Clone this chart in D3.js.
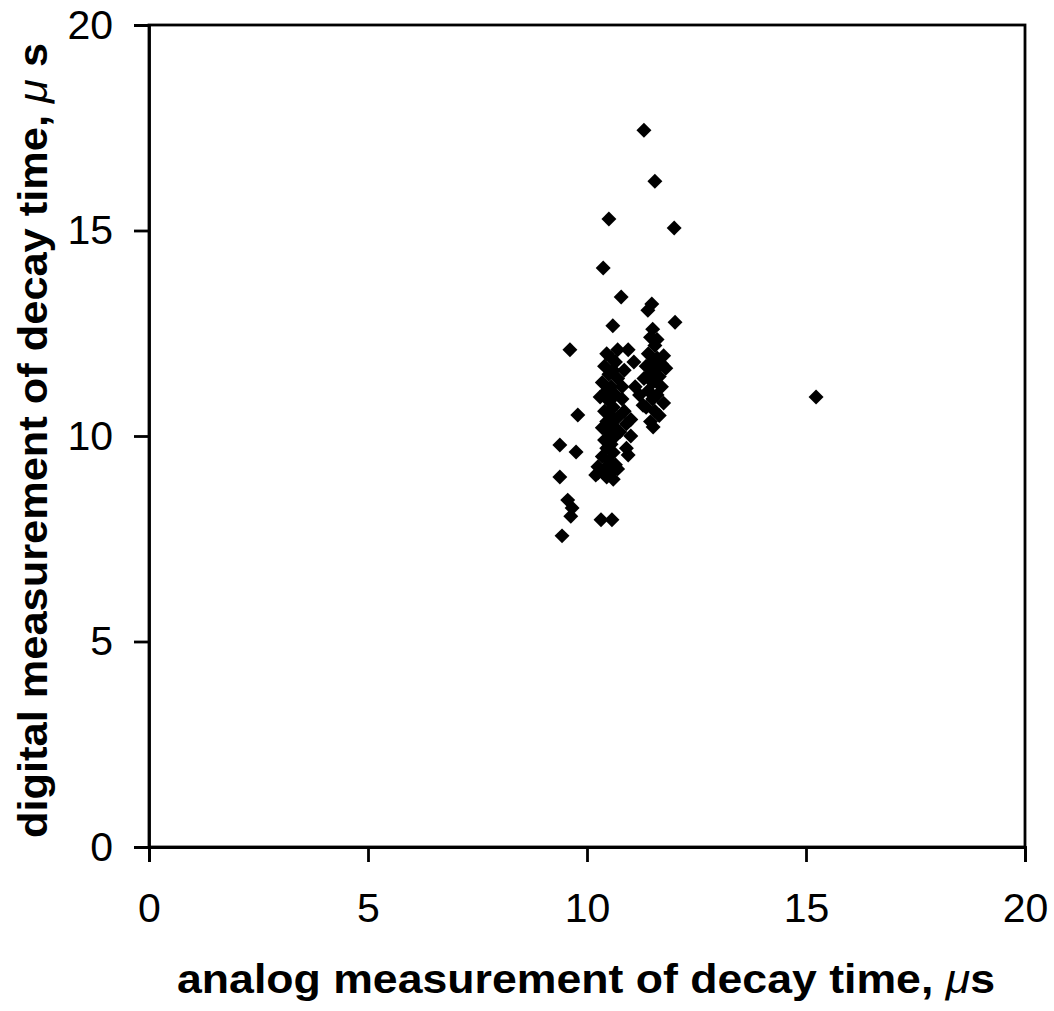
<!DOCTYPE html>
<html><head><meta charset="utf-8">
<script src="https://cdn.jsdelivr.net/npm/d3@7"></script>
<style>
html,body{margin:0;padding:0;background:#fff;}
svg{display:block;}
text{font-family:"Liberation Sans",Arial,Helvetica,sans-serif;}
</style></head>
<body>
<script>
const xTicks = [0, 5, 10, 15, 20];
const yTicks = [0, 5, 10, 15, 20];
const analog = [
 11.30, 11.55, 10.50, 11.99, 10.37, 11.39, 11.48, 10.78, 12.01, 10.59,
 9.61, 10.94, 11.07, 9.79, 9.38, 9.75, 9.38, 9.56, 9.66, 9.63,
 10.32, 10.57, 9.43, 15.23, 10.25,
 10.45, 10.55, 10.40, 10.60, 10.50, 10.70, 10.35, 10.55, 10.45, 10.65,
 10.30, 10.50, 10.60, 10.40, 10.55, 10.70, 10.45, 10.60, 10.35, 10.50,
 10.65, 10.40, 10.55, 10.45, 10.60, 10.35, 10.50, 10.65, 10.40, 10.55,
 10.25, 10.20, 10.45, 10.60, 10.70, 10.80, 10.85, 10.90, 10.75, 10.90,
 11.00, 10.85, 10.80, 10.70, 10.65, 10.94, 11.28, 11.51,
 11.50, 11.45, 11.55, 11.40, 11.60, 11.50, 11.70, 11.35, 11.55, 11.80,
 11.45, 11.65, 11.30, 11.50, 11.70, 11.40, 11.60, 11.50, 11.75, 11.35,
 11.55, 11.65, 11.45, 11.20, 11.10, 11.00, 11.60, 11.75
];
const digital = [
 17.44, 16.20, 15.28, 15.06, 14.09, 13.06, 13.21, 13.38, 12.77, 12.68,
 12.10, 12.10, 11.80, 10.51, 9.00, 9.61, 9.78, 8.44, 8.25, 8.05,
 7.96, 7.96, 7.57, 10.95, 9.10,
 12.00, 11.90, 11.70, 11.60, 11.50, 11.40, 11.30, 11.20, 11.10, 11.00,
 10.95, 10.85, 10.70, 10.60, 10.50, 10.45, 10.35, 10.25, 10.20, 10.10,
 10.00, 9.90, 9.80, 9.70, 9.60, 9.50, 9.40, 9.30, 9.20, 9.10,
 9.25, 9.05, 9.00, 8.95, 9.20, 10.90, 10.60, 10.30, 10.10, 9.70,
 10.00, 11.60, 11.20, 12.10, 11.80, 9.54, 10.75, 10.22,
 12.60, 12.40, 12.20, 12.00, 11.90, 11.80, 11.75, 11.70, 11.60, 11.65,
 11.50, 11.45, 11.40, 11.30, 11.20, 11.10, 11.00, 10.90, 10.80, 10.70,
 10.60, 10.50, 10.35, 11.00, 11.20, 10.40, 12.35, 11.95
];

const W = 1054, H = 1011;
const m = {left:149, top:25, right:1025, bottom:847};
const svg = d3.select("body").append("svg").attr("width", W).attr("height", H);

const x = d3.scaleLinear().domain([0,20]).range([m.left, m.right]);
const y = d3.scaleLinear().domain([0,20]).range([m.bottom, m.top]);

// frame
svg.append("rect").attr("x", m.left).attr("y", m.top)
  .attr("width", m.right - m.left).attr("height", m.bottom - m.top)
  .attr("fill", "none").attr("stroke", "#000").attr("stroke-width", 2.8);

const xAxis = svg.append("g").attr("transform", `translate(0,${m.bottom})`)
  .call(d3.axisBottom(x).tickValues(xTicks).tickSize(15).tickPadding(31).tickFormat(d3.format("d")));
const yAxis = svg.append("g").attr("transform", `translate(${m.left},0)`)
  .call(d3.axisLeft(y).tickValues(yTicks).tickSize(15).tickPadding(21).tickFormat(d3.format("d")));
[xAxis, yAxis].forEach(g => {
  g.select(".domain").attr("stroke", "#000").attr("stroke-width", 2.8);
  g.selectAll(".tick line").attr("stroke", "#000").attr("stroke-width", 2.8);
  g.selectAll(".tick text").attr("fill", "#000")
    .style("font-family", '"Liberation Sans", Arial, sans-serif').style("font-size", "41px");
});

// points
const pts = analog.map((a, i) => [a, digital[i]]);
const sym = d3.symbol().type(d3.symbolSquare).size(112);
svg.append("g").selectAll("path").data(pts).join("path")
  .attr("d", sym)
  .attr("transform", d => `translate(${x(d[0])},${y(d[1])}) rotate(45)`)
  .attr("fill", "#000");

// axis titles
const xt = svg.append("text").attr("x", 177).attr("y", 993)
  .attr("textLength", 818).attr("lengthAdjust", "spacingAndGlyphs")
  .style("font-size", "40px").style("font-weight", "bold");
xt.append("tspan").text("analog measurement of decay time, ");
xt.append("tspan").style("font-style", "italic").style("font-weight", "normal").text("μ");
xt.append("tspan").text("s");

const yt = svg.append("text").attr("transform", "translate(47,838) rotate(-90)")
  .attr("textLength", 795).attr("lengthAdjust", "spacingAndGlyphs")
  .style("font-size", "40px").style("font-weight", "bold");
yt.append("tspan").text("digital measurement of decay time,  ");
yt.append("tspan").style("font-style", "italic").style("font-weight", "normal").text("μ");
yt.append("tspan").text(" s");
</script>
</body></html>
